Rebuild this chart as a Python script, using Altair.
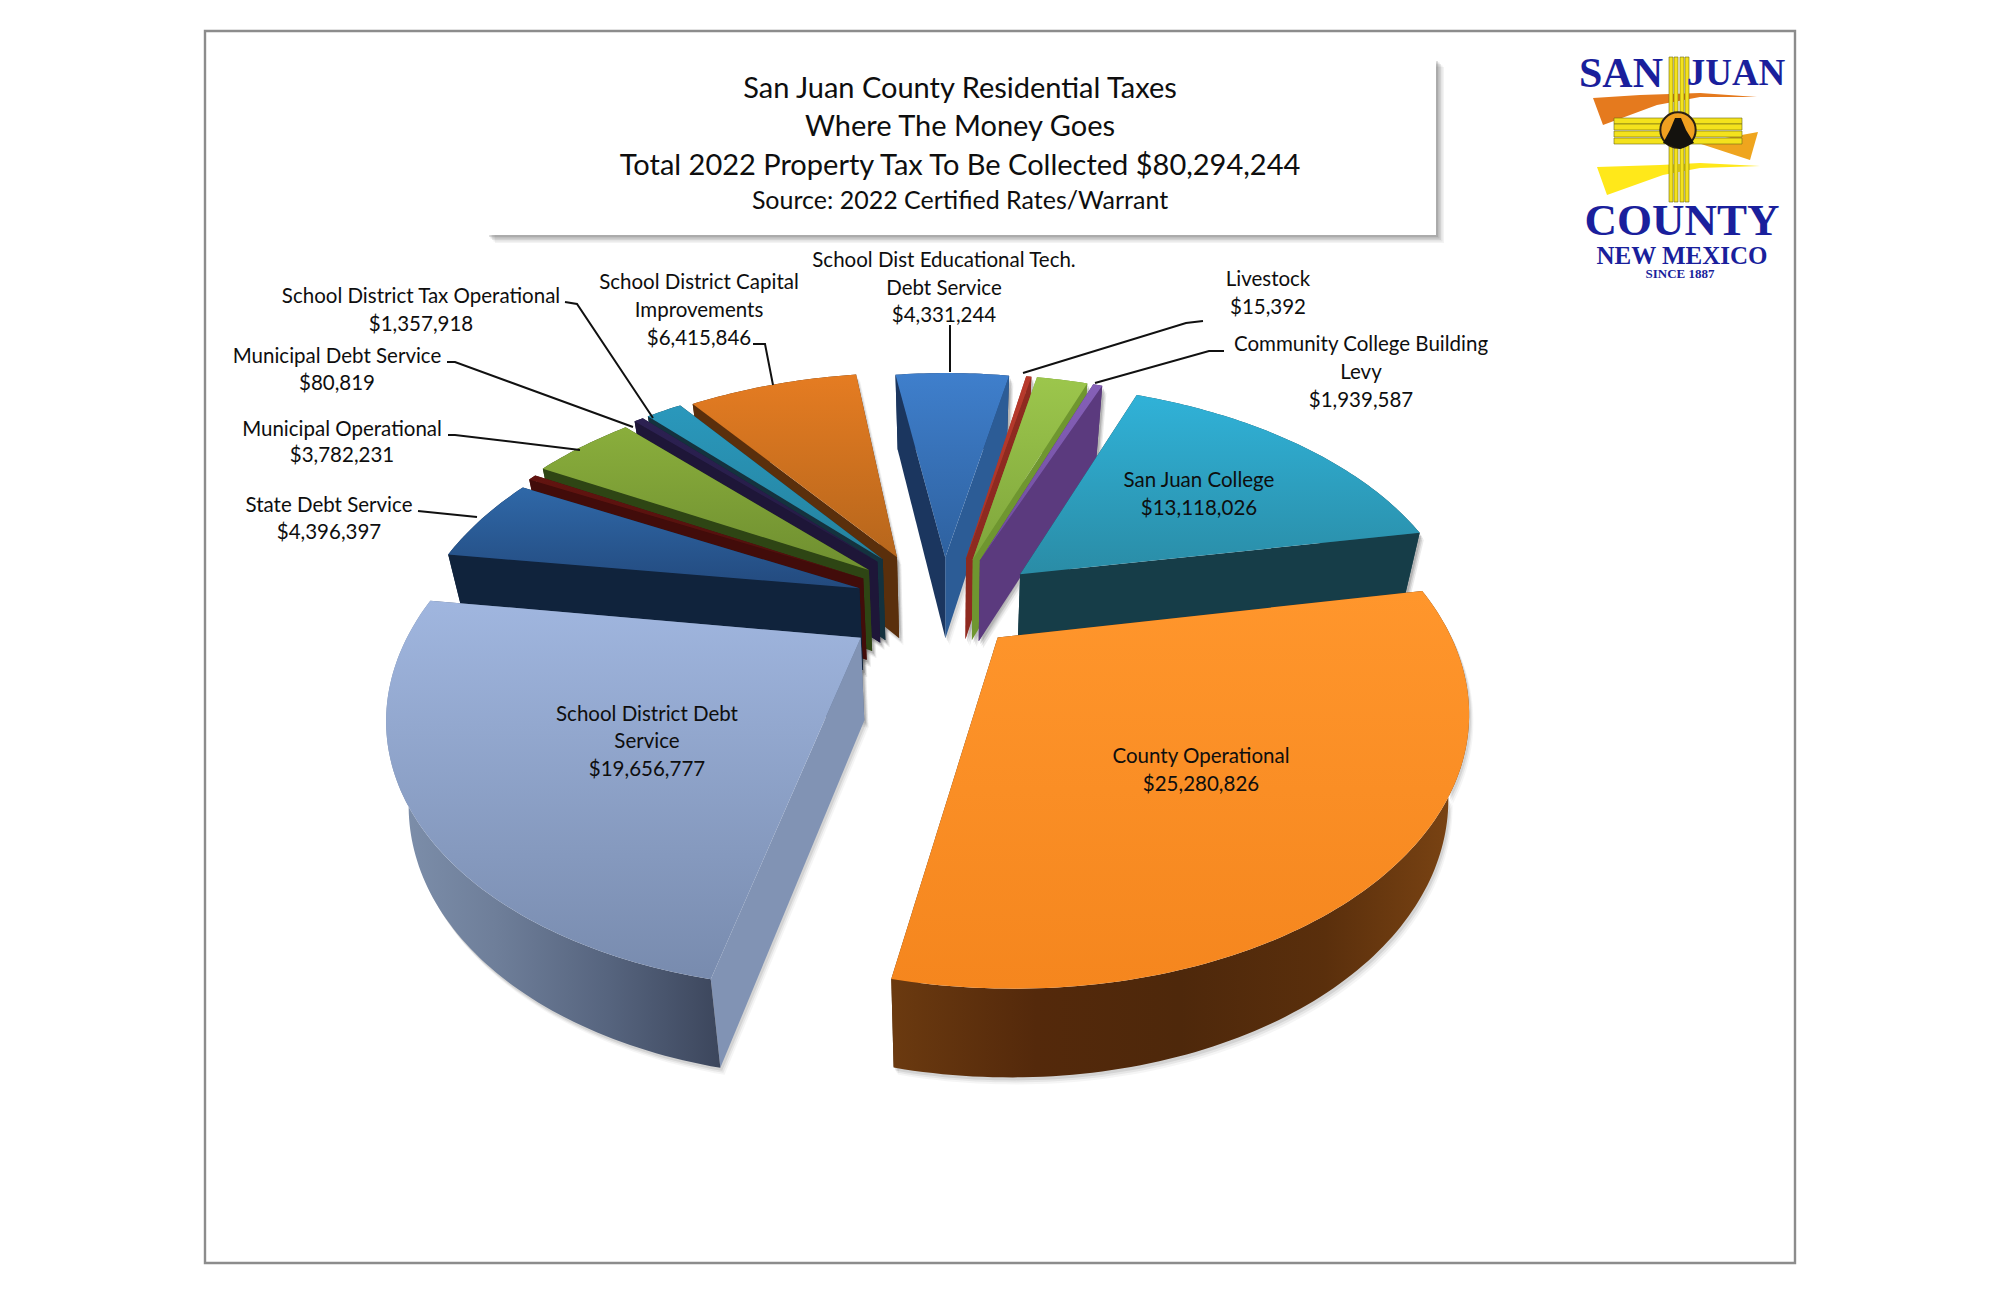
import numpy as np
import pandas as pd
import altair as alt

# ---- data -----------------------------------------------------------------
slice_names = ["Edu Tech", "Livestock", "Comm College green", "Comm College purple", "San Juan College",
               "County Operational", "School District Debt", "State Debt", "dark red", "Municipal Operational",
               "Municipal Debt", "School Tax Operational", "School Capital"]
slice_values = [4331244, 200000, 1939587, 350000, 13118026, 25500000, 19656777, 4396397, 300000, 3782231,
                350000, 1357918, 6415846]
top_colors = [("#3F7FCC", "#2E619F"), ("#B83A2C", "#A83428"), ("#9CC64C", "#7FA63C"), ("#8560B8", "#6E4C9C"),
              ("#30B2D8", "#2A8CA6"), ("#FF962C", "#F5861E"), ("#A0B6DF", "#788BAE"), ("#2F68A8", "#234A7E"),
              ("#631410", "#4C0F0C"), ("#8AAE3C", "#6F8F30"), ("#2C2152", "#241A44"), ("#2A98BC", "#25829E"),
              ("#E57C22", "#B6661C")]
end_faces = ["#2C5C96", "#8E2A20", "#6F9630", "#5B3A7E", "#163D48", "#5A300E", "#566680", "#10233C", "#420C0A", "#2E4514", "#1E1638", "#14323E", "#5A2F0C"]
start_faces = ["#1B365F", "#A83428", "#75A034", "#4A2F6C", "#163D48", "#5A300E", "#8193B4", "#10233C", "#420C0A", "#2E4514", "#1E1638", "#14323E", "#5A2F0C"]
outer_faces = ["#1B365F", "#8E2A20", "#6F9630", "#4A2F6C", "#1C4D5A", "#5A300E", "#566680", "#12294A", "#420C0A", "#2E4514", "#1E1638", "#14323E", "#5A2F0C"]
explode = [0.20, 0.20, 0.20, 0.20, 0.20, 0.15, 0.24, 0.22, 0.23, 0.24, 0.25, 0.25, 0.25]
nudge_x = [-0.015, 0, 0, 0, 0.01, 0, 0, 0, 0, 0, 0, 0, -0.03]
nudge_y = [0, 0, 0, 0, 0, -0.02, 0.01, 0, 0, 0, 0, 0, -0.03]

title_lines = ["San Juan County Residential Taxes", "Where The Money Goes",
               "Total 2022 Property Tax To Be Collected $80,294,244", "Source: 2022 Certified Rates/Warrant"]
title_y = [89, 127, 166, 201]
title_size = [29, 29, 29, 25]

label_text = ["School Dist Educational Tech.", "Debt Service", "$4,331,244", "Livestock", "$15,392",
              "Community College Building", "Levy", "$1,939,587", "San Juan College", "$13,118,026",
              "County Operational", "$25,280,826", "School District Debt", "Service", "$19,656,777",
              "School District Capital", "Improvements", "$6,415,846", "School District Tax Operational", "$1,357,918",
              "Municipal Debt Service", "$80,819", "Municipal Operational", "$3,782,231", "State Debt Service", "$4,396,397"]
label_x = [944, 944, 944, 1268, 1268, 1361, 1361, 1361, 1199, 1199, 1201, 1201, 647, 647, 647,
           699, 699, 699, 421, 421, 337, 337, 342, 342, 329, 329]
label_y = [261, 289, 316, 280, 308, 345, 373, 401, 481, 509, 757, 785, 715, 742, 770,
           283, 311, 339, 297, 325, 357, 384, 430, 456, 506, 533]

leaders = [[(950, 325), (950, 372)],
           [(1203, 321), (1186, 323), (1023, 373)],
           [(1224, 351), (1209, 351), (1095, 383)],
           [(753, 344), (765, 344), (773, 385)],
           [(565, 302), (577, 304), (653, 418)],
           [(447, 362), (455, 362), (633, 427)],
           [(448, 435), (455, 435), (580, 450)],
           [(418, 511), (477, 517)]]

# ---- projection parameters ------------------------------------------------
CX, CY, AX, BY, K = 950.0, 605.0, 440.0, 248.7, 0.239
START = -8.5


def project(X, Y, low=False):
    w = 1 + K * Y
    sx = CX + AX * X / w
    sy = CY - BY * Y / w
    if low:
        sy = sy + 82 - 6 * Y
        sx = CX + (sx - CX) * 0.96
    return float(sx), float(sy)


sx = alt.Scale(domain=[8, 1992], range=[0, 1984], nice=False, zero=False)
sy = alt.Scale(domain=[8, 1286], range=[0, 1278], nice=False, zero=False)
layers = []


def poly(points, fill, stroke=None, opacity=1.0, sw=0.6):
    pts = list(points) + [points[0]]
    df = pd.DataFrame({"x": [p[0] for p in pts], "y": [p[1] for p in pts], "o": range(len(pts))})
    kw = dict(fill=fill, opacity=opacity, strokeWidth=sw if stroke else 0)
    kw["stroke"] = stroke if stroke else "transparent"
    layers.append(alt.Chart(df).mark_line(**kw).encode(
        x=alt.X("x:Q", scale=sx, axis=None), y=alt.Y("y:Q", scale=sy, axis=None), order="o:Q"))


def rect(x0, y0, x1, y1, fill, opacity=1.0, stroke=None, sw=1):
    df = pd.DataFrame({"x": [x0], "x2": [x1], "y": [y0], "y2": [y1]})
    kw = dict(fill=fill, opacity=opacity)
    if stroke:
        kw.update(stroke=stroke, strokeWidth=sw)
    layers.append(alt.Chart(df).mark_rect(**kw).encode(
        x=alt.X("x:Q", scale=sx, axis=None), x2="x2:Q", y=alt.Y("y:Q", scale=sy, axis=None), y2="y2:Q"))


def text(t, x, y, size, font="Lato", color="#0E0E0E", weight="normal"):
    df = pd.DataFrame({"x": x, "y": y, "t": t, "s": size})
    for s, g in df.groupby("s"):
        layers.append(alt.Chart(g).mark_text(font=font, fontSize=float(s), color=color, fontWeight=weight,
                                             align="center", baseline="middle").encode(
            x=alt.X("x:Q", scale=sx, axis=None), y=alt.Y("y:Q", scale=sy, axis=None), text="t:N"))


def vgrad(a, b):
    return alt.LinearGradient(gradient="linear",
                              stops=[alt.GradientStop(color=a, offset=0), alt.GradientStop(color=b, offset=1)],
                              x1=0, x2=0, y1=0, y2=1)


def hgrad(*cols):
    n = len(cols) - 1
    return alt.LinearGradient(gradient="linear",
                              stops=[alt.GradientStop(color=c, offset=i / n) for i, c in enumerate(cols)],
                              x1=0, x2=1, y1=0, y2=0)


# ---- frame and title box --------------------------------------------------
rect(205, 31, 1795, 1263, "white", stroke="#8C8C8C", sw=2.4)
for off, op in [(8, 0.08), (6.5, 0.10), (5, 0.14), (3.5, 0.18), (2, 0.2)]:
    rect(487 + off, 59 + off, 1436 + off, 235 + off, "#666666", opacity=op)
rect(487, 59, 1436, 235, "white")
text(title_lines, [960] * 4, title_y, title_size)

# ---- pie geometry from the values -------------------------------------------
total = sum(slice_values)
angles = np.cumsum([0] + slice_values) / total * 360 + START
geom = []
for i in range(len(slice_values)):
    a0, a1 = np.radians(angles[i]), np.radians(angles[i + 1])
    mid = (a0 + a1) / 2
    ox = explode[i] * np.sin(mid) + nudge_x[i]
    oy = explode[i] * np.cos(mid) + nudge_y[i]
    th = np.linspace(a0, a1, max(3, int(np.degrees(a1 - a0)) + 2))
    arc = [(ox + np.sin(t), oy + np.cos(t)) for t in th]
    apex = (ox, oy)
    top = [project(*apex)] + [project(*p) for p in arc]
    low_arc = [project(*p, low=True) for p in arc]
    up_arc = [project(*p) for p in arc]
    apex_up, apex_low = project(*apex), project(*apex, low=True)
    end_face = [apex_up, up_arc[-1], low_arc[-1], apex_low]
    start_face = [apex_up, up_arc[0], low_arc[0], apex_low]
    outer = up_arc + low_arc[::-1]
    faces = [(oy + 0.5 * np.cos(a0), start_face, start_faces[i]),
             (oy + 0.5 * np.cos(a1), end_face, end_faces[i]),
             (oy + np.cos(mid), outer, outer_faces[i])]
    geom.append((oy, i, top, faces))

# soft shadow under everything
for _, i, top, faces in geom:
    for off, op in [(7, 0.06), (5, 0.09), (3, 0.13)]:
        for _, f, _c in faces:
            poly([(x + off * 0.6, y + off) for x, y in f], "#555555", opacity=op)

grad_outer = {5: hgrad("#6B3A10", "#54290B", "#4E280B", "#5A2F0C", "#7E4614"),
              6: hgrad("#7F91AD", "#6E7E99", "#56647E", "#3C465C")}
for _, i, top, faces in sorted(geom, key=lambda g: -g[0]):
    for depth, f, c in sorted(faces, key=lambda g: -g[0]):
        fill = grad_outer[i] if (f is faces[2][1] and i in grad_outer) else c
        poly(f, fill)
    poly(top, vgrad(*top_colors[i]))

# ---- leaders and labels ------------------------------------------------------
for n, pts in enumerate(leaders):
    df = pd.DataFrame({"x": [p[0] for p in pts], "y": [p[1] for p in pts], "o": range(len(pts))})
    layers.append(alt.Chart(df).mark_line(color="#111111", strokeWidth=2).encode(
        x=alt.X("x:Q", scale=sx, axis=None), y=alt.Y("y:Q", scale=sy, axis=None), order="o:Q"))
text(label_text, label_x, label_y, [20.5] * len(label_text))

# ---- logo -----------------------------------------------------------------
poly([(1593, 98), (1640, 95), (1700, 93), (1757, 97), (1700, 97), (1657, 105), (1603, 125)], "#E57A1E")
poly([(1698, 143), (1758, 132), (1750, 160)], "#EFA51E")
poly([(1597, 167), (1660, 165), (1700, 163), (1760, 166), (1700, 168), (1663, 175), (1607, 195)], "#FFE81A")
for x in [1669, 1674, 1680, 1685]:
    rect(x, 57, x + 4, 202, "#F4E21C", stroke="#6B6A14", sw=0.6)
for y in [118, 124, 131, 138]:
    rect(1614, y, 1742, y + 6, "#F4E21C", stroke="#6B6A14", sw=0.6)
layers.append(alt.Chart(pd.DataFrame({"x": [1678], "y": [130]})).mark_point(
    filled=True, fill="#F0A020", stroke="#2A2014", strokeWidth=2, size=1250, opacity=1).encode(
    x=alt.X("x:Q", scale=sx, axis=None), y=alt.Y("y:Q", scale=sy, axis=None)))
poly([(1663, 143), (1670, 130), (1675, 118), (1681, 118), (1686, 130), (1694, 143), (1680, 149)], "#14120E")
blue = "#1A1F9C"
text(["SAN"], [1621], [74], [42], font="Liberation Serif", color=blue, weight="bold")
text(["JUAN"], [1736], [74], [37], font="Liberation Serif", color=blue, weight="bold")
text(["COUNTY"], [1682], [221], [45], font="Liberation Serif", color=blue, weight="bold")
text(["NEW MEXICO"], [1682], [256], [25], font="Liberation Serif", color=blue, weight="bold")
text(["SINCE 1887"], [1680], [274], [13], font="Liberation Serif", color=blue, weight="bold")

chart = alt.layer(*layers).properties(width=1984, height=1278, padding=0, background="white",
                                       autosize=alt.AutoSizeParams(type="none")).configure_view(stroke=None)
chart.save("out.html", embed_options={"renderer": "svg", "actions": False})
